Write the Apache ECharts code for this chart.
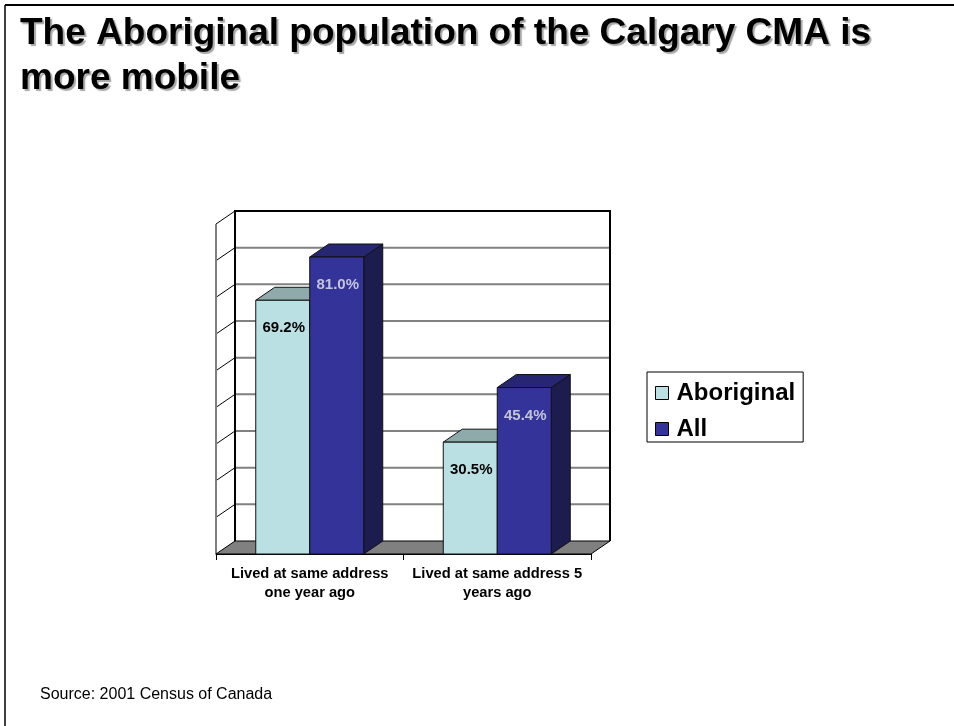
<!DOCTYPE html>
<html>
<head>
<meta charset="utf-8">
<script src="https://cdn.jsdelivr.net/npm/echarts@6/dist/echarts.min.js"></script>
<style>
  html, body { margin: 0; padding: 0; background: #fff; }
  #chart { width: 954px; height: 726px; }
</style>
</head>
<body>
<div id="chart"></div>
<script>
// Share of residents living at the same address, Calgary CMA, 2001
const categories = ['Lived at same address\none year ago', 'Lived at same address 5\nyears ago'];
const aboriginalValues = [69.2, 30.5];
const allValues = [81.0, 45.4];
const seriesNames = ['Aboriginal', 'All'];

// value axis range and wall grid ticks
const axisMin = 0;
const axisMax = 90;
const axisStep = 10;
const wallTicks = [0, 10, 20, 30, 40, 50, 60, 70, 80, 90];

// 3D look: how far the back plane is shifted from the front plane
const DEPTH_X = 19;
const DEPTH_Y = -13;
const BAR_FRACTION = 0.288;
const FONT = '"Liberation Sans", Arial, Helvetica, sans-serif';

const palette = {
  aboriginal: { front: '#bbe0e3', top: '#8eaaab', side: '#6f9496', label: '#000000' },
  all:        { front: '#333399', top: '#262673', side: '#1c1c4f', label: '#c4c4d8' }
};

function barRenderer(slot, colors) {
  return function (params, api) {
    const cat = api.value(0);
    const v = api.value(1);
    const base = api.coord([cat, 0]);
    const top = api.coord([cat, v]);
    const bw = api.size([1, 0])[0] * BAR_FRACTION;
    const x0 = base[0] + slot * bw;
    const x1 = x0 + bw;
    const yb = base[1];
    const yt = top[1];
    const edge = { stroke: '#111', lineWidth: 1 };
    return {
      type: 'group',
      children: [
        { type: 'polygon', shape: { points: [[x1, yt], [x1 + DEPTH_X, yt + DEPTH_Y], [x1 + DEPTH_X, yb + DEPTH_Y], [x1, yb]] },
          style: Object.assign({ fill: colors.side }, edge) },
        { type: 'polygon', shape: { points: [[x0, yt], [x1, yt], [x1 + DEPTH_X, yt + DEPTH_Y], [x0 + DEPTH_X, yt + DEPTH_Y]] },
          style: Object.assign({ fill: colors.top }, edge) },
        { type: 'rect', shape: { x: x0, y: yt, width: bw, height: yb - yt },
          style: Object.assign({ fill: colors.front }, edge) },
        { type: 'text', x: (x0 + x1) / 2 + 1, y: yt + 28,
          style: { text: v.toFixed(1) + '%', fill: colors.label, font: 'bold 15px ' + FONT,
                   align: 'center', verticalAlign: 'middle' } }
      ]
    };
  };
}

function wallsRenderer(params, api) {
  const cs = params.coordSys;
  const left = cs.x, right = cs.x + cs.width;
  const yOf = v => api.coord([0, v])[1];
  const yTop = yOf(axisMax), yBase = yOf(axisMin);
  const children = [];
  // back wall
  children.push({ type: 'rect',
    shape: { x: left + DEPTH_X, y: yTop + DEPTH_Y, width: cs.width, height: yBase - yTop },
    style: { fill: '#ffffff', stroke: null } });
  // horizontal grid lines on the back wall and diagonals on the side wall
  wallTicks.forEach(t => {
    const y = yOf(t);
    if (t > axisMin && t < axisMax) {
      children.push({ type: 'line',
        shape: { x1: left + DEPTH_X, y1: y + DEPTH_Y, x2: right + DEPTH_X, y2: y + DEPTH_Y },
        style: { stroke: '#808080', lineWidth: 2 } });
    }
    if (t > axisMin) {
      children.push({ type: 'line',
        shape: { x1: left, y1: y, x2: left + DEPTH_X, y2: y + DEPTH_Y },
        style: { stroke: '#000', lineWidth: 1 } });
    }
  });
  // wall borders
  children.push({ type: 'polyline',
    shape: { points: [[left + DEPTH_X, yBase + DEPTH_Y], [left + DEPTH_X, yTop + DEPTH_Y],
                      [right + DEPTH_X, yTop + DEPTH_Y], [right + DEPTH_X, yBase + DEPTH_Y]] },
    style: { stroke: '#000', lineWidth: 2, fill: null } });
  children.push({ type: 'line', shape: { x1: left, y1: yTop, x2: left, y2: yBase },
    style: { stroke: '#808080', lineWidth: 2 } });
  // floor
  children.push({ type: 'polygon',
    shape: { points: [[left, yBase], [left + DEPTH_X, yBase + DEPTH_Y],
                      [right + DEPTH_X, yBase + DEPTH_Y], [right, yBase]] },
    style: { fill: '#808080', stroke: '#000', lineWidth: 1 } });
  return { type: 'group', children: children };
}

const chart = echarts.init(document.getElementById('chart'), null, { renderer: 'canvas' });

chart.setOption({
  animation: false,
  backgroundColor: '#ffffff',
  title: [
    { text: 'The Aboriginal population of the Calgary CMA is\nmore mobile',
      left: 15, top: 6,
      textStyle: { fontFamily: FONT, fontSize: 37, fontWeight: 'bold', color: '#000', lineHeight: 45,
                   textShadowColor: 'rgba(0,0,0,0.35)', textShadowOffsetX: 2, textShadowOffsetY: 2, textShadowBlur: 1 } },
    { text: 'Source: 2001 Census of Canada', left: 35, top: 682,
      textStyle: { fontFamily: FONT, fontSize: 16, fontWeight: 'normal', color: '#000' } }
  ],
  legend: {
    orient: 'vertical',
    left: 647, top: 372,
    padding: [9, 8, 1, 8],
    itemWidth: 13, itemHeight: 13, itemGap: 12,
    icon: 'rect',
    borderColor: '#000', borderWidth: 1,
    backgroundColor: '#fff',
    textStyle: { fontFamily: FONT, fontSize: 24, fontWeight: 'bold', color: '#000', padding: [0, 0, 0, 3] },
    data: [
      { name: seriesNames[0], itemStyle: { color: palette.aboriginal.front, borderColor: '#000', borderWidth: 1 } },
      { name: seriesNames[1], itemStyle: { color: palette.all.front, borderColor: '#000', borderWidth: 1 } }
    ]
  },
  grid: { left: 216, top: 224, width: 375, height: 330, containLabel: false },
  xAxis: {
    type: 'category',
    data: categories,
    boundaryGap: true,
    axisLine: { show: true, lineStyle: { color: '#000', width: 1 } },
    axisTick: { show: true, length: 6, lineStyle: { color: '#000' } },
    axisLabel: { fontFamily: FONT, fontSize: 14.7, fontWeight: 'bold', color: '#000', lineHeight: 19, margin: 10, interval: 0 },
    splitLine: { show: false }
  },
  yAxis: {
    type: 'value',
    min: axisMin, max: axisMax, interval: axisStep,
    axisLine: { show: false }, axisTick: { show: false }, axisLabel: { show: false },
    splitLine: { show: false }
  },
  graphic: [
    { type: 'line', shape: { x1: 5, y1: 5, x2: 954, y2: 5 }, style: { stroke: '#000', lineWidth: 2 } },
    { type: 'line', shape: { x1: 5, y1: 5, x2: 5, y2: 726 }, style: { stroke: '#000', lineWidth: 1.5 } }
  ],
  series: [
    { type: 'custom', name: 'walls', renderItem: wallsRenderer, data: [[0, 0]], silent: true, z: 1,
      encode: { x: 0, y: 1 } },
    { type: 'custom', name: seriesNames[0], renderItem: barRenderer(-1, palette.aboriginal), z: 2,
      itemStyle: { color: palette.aboriginal.front },
      encode: { x: 0, y: 1 },
      data: aboriginalValues.map((v, i) => [i, v]) },
    { type: 'custom', name: seriesNames[1], renderItem: barRenderer(0, palette.all), z: 3,
      itemStyle: { color: palette.all.front },
      encode: { x: 0, y: 1 },
      data: allValues.map((v, i) => [i, v]) }
  ]
});
</script>
</body>
</html>
